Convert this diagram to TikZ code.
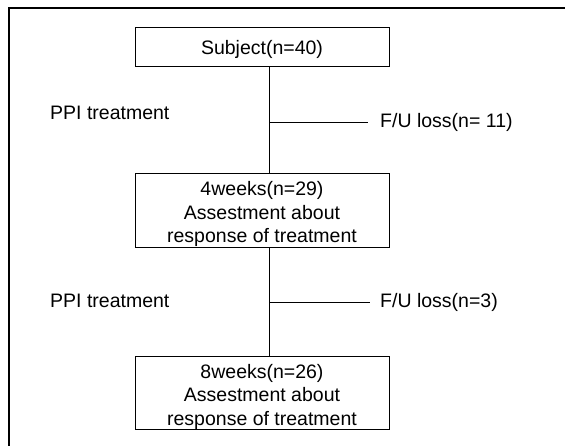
\documentclass[tikz,border=0pt]{standalone}
\usepackage{fontspec}
\setmainfont{Liberation Sans}
\begin{document}
\begin{tikzpicture}[x=1pt,y=-1pt,
  every node/.style={font=\fontsize{19.5}{23.5}\selectfont},
  box/.style={draw,line width=1pt,minimum width=254pt,inner sep=0pt,align=center,anchor=center},
  lbl/.style={inner sep=0pt,anchor=west},
  con/.style={line width=1pt}]
\useasboundingbox (0,0) rectangle (565,445);
\draw[line width=2pt] (9,446) -- (9,8) -- (566,8);
\node[box,minimum height=39pt] (b1) at (262,46.5) {\rule{0pt}{20pt}Subject(n=40)};
\node[box,minimum height=73pt] (b2) at (262,210.5) {\rule{0pt}{22pt}4weeks(n=29)\\Assestment about\\response of treatment};
\node[box,minimum height=72pt] (b3) at (262,393) {\rule{0pt}{22pt}8weeks(n=26)\\Assestment about\\response of treatment};
\node[lbl] (p1) at (50,113) {PPI treatment};
\node[lbl] (p2) at (50,301) {PPI treatment};
\node[lbl] (f1) at (380,122) {F/U loss(n= 11)};
\node[lbl] (f2) at (380,302) {F/U loss(n=3)};
\coordinate (j1) at (270,122);
\coordinate (j2) at (270,302);
\coordinate (e1) at (368,122);
\coordinate (e2) at (370,302);
\draw[con] ([xshift=135pt]b1.south west) -- ([xshift=135pt]b2.north west);
\draw[con] ([xshift=135pt]b2.south west) -- ([xshift=135pt]b3.north west);
\draw[con] (j1) -- (e1);
\draw[con] (j2) -- (e2);
\end{tikzpicture}
\end{document}
